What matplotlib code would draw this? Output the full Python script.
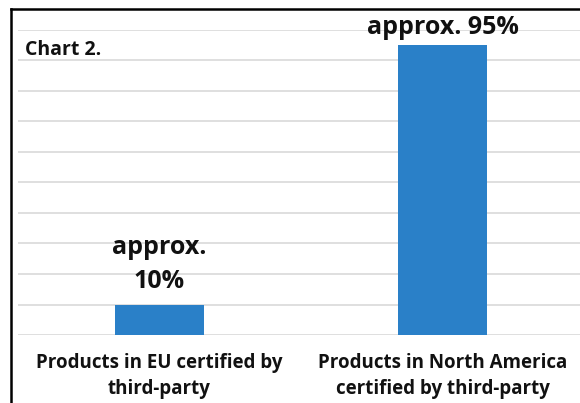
import matplotlib
matplotlib.use("Agg")
import matplotlib.pyplot as plt
from matplotlib.lines import Line2D

categories = ["Products in EU certified by\nthird-party",
              "Products in North America\ncertified by third-party"]
values = [10, 95]
value_labels = ["approx.\n10%", "approx. 95%"]
title = "Chart 2."

plt.rcParams['font.family'] = ['Open Sans', 'DejaVu Sans']

W, H = 580, 403
fig = plt.figure(figsize=(W / 100, H / 100), dpi=100)
ax = fig.add_axes([18 / W, 1 - 335 / H, (584 - 18) / W, 305 / H])

x = list(range(len(categories)))
ax.bar(x, values, width=0.315, color="#2a80c8", zorder=3)
ax.set_xlim(-0.5, 1.5)
ax.set_ylim(0, 100)
ax.set_yticks(range(0, 101, 10))
ax.yaxis.grid(True, color="#d9d9d9", linewidth=1.2, zorder=0)
ax.set_yticklabels([])
ax.tick_params(axis="both", length=0)
for s in ax.spines.values():
    s.set_visible(False)
ax.set_xticks(x)
ax.set_xticklabels(categories, fontsize=13.5, fontweight="bold", color="#111111",
                   linespacing=1.4)
ax.tick_params(axis="x", pad=13)

label_offsets_px = [17, 11]
for xi, v, lab, off in zip(x, values, value_labels, label_offsets_px):
    ax.annotate(lab, (xi, v), xytext=(0, off * 0.72), textcoords="offset points",
                ha="center", va="baseline", fontsize=18, fontweight="bold",
                color="#111111", linespacing=1.45)

fig.text(25 / W, 1 - 55 / H, title, ha="left", va="baseline", fontsize=14,
         fontweight="bold", color="#111111")

fig.add_artist(Line2D([11 / W, 11 / W], [0, 1 - 9 / H], transform=fig.transFigure,
                      color="black", linewidth=1.8))
fig.add_artist(Line2D([11 / W, 1], [1 - 9 / H, 1 - 9 / H], transform=fig.transFigure,
                      color="black", linewidth=1.8))

fig.savefig("out.png", dpi=100, facecolor="white")
